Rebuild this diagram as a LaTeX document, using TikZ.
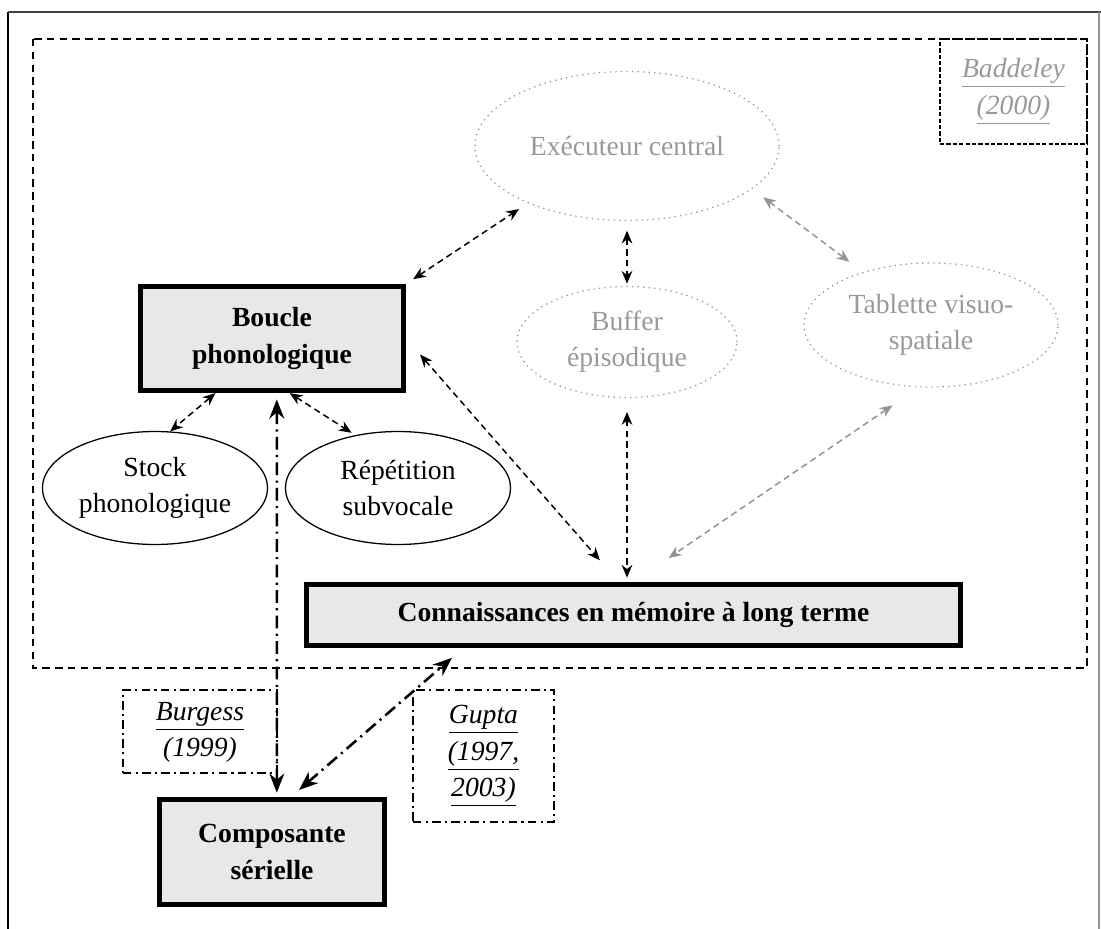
\documentclass[tikz,border=0pt]{standalone}
\usepackage{fontspec}
\setmainfont{Liberation Serif}
\usepackage{tikz}
\usetikzlibrary{shapes}
\usetikzlibrary{shapes.geometric}
\usetikzlibrary{arrows.meta}
\pgfdeclarelayer{edgelayer}
\pgfdeclarelayer{nodelayer}
\pgfsetlayers{edgelayer,nodelayer,main}
\tikzstyle{none}=[inner sep=0pt]
\definecolor{lightgrey}{rgb}{0.91,0.91,0.91}
\definecolor{textgrey}{rgb}{0.6,0.6,0.6}
\definecolor{linegrey}{rgb}{0.58,0.58,0.58}
\tikzstyle{bigbox}=[rectangle, draw=black, fill=lightgrey, line width=2.4pt, align=center, font=\bfseries\fontsize{13}{17}\selectfont]
\tikzstyle{oval}=[ellipse, draw=black, line width=0.6pt, align=center, font=\fontsize{13}{17}\selectfont]
\tikzstyle{greyoval}=[ellipse, draw=linegrey, dotted, line width=0.6pt, text=textgrey, align=center, font=\fontsize{13}{17}\selectfont]
\tikzstyle{refbox}=[rectangle, draw=black, line width=0.8pt, dash pattern=on 4pt off 2pt on 1pt off 2pt, align=center, font=\itshape\fontsize{13}{17}\selectfont]
\tikzstyle{dasharrow}=[color=black, dash pattern=on 3pt off 2pt, line width=0.7pt, {Stealth[length=6pt,width=5pt]}-{Stealth[length=6pt,width=5pt]}]
\tikzstyle{greyarrow}=[dasharrow, color=linegrey]
\tikzstyle{dotarrow}=[color=black, dash pattern=on 6pt off 2.5pt on 1pt off 2.5pt, line width=1.2pt, {Stealth[length=9pt,width=7pt]}-{Stealth[length=9pt,width=7pt]}]

\begin{document}
\begin{tikzpicture}[x=0.47pt, y=-0.47pt]
	\useasboundingbox (0,0) rectangle (1101,929);
	\begin{pgfonlayer}{nodelayer}
		\node [style=greyoval, inner sep=0pt, minimum width=143pt, minimum height=70pt] (0) at (627, 146) {Exécuteur central};
		\node [style=greyoval, inner sep=0pt, minimum width=103.4pt, minimum height=52.2pt] (1) at (627, 342) {Buffer\\épisodique};
		\node [style=greyoval, inner sep=0pt, minimum width=119.4pt, minimum height=58.3pt] (2) at (931, 325) {Tablette visuo-\\spatiale};
		\node [style=bigbox, inner sep=0pt, minimum width=123.6pt, minimum height=48.9pt] (3) at (272, 338.5) {Boucle\\phonologique};
		\node [style=oval, inner sep=0pt, minimum width=105.8pt, minimum height=53.1pt] (4) at (155, 488) {Stock\\phonologique};
		\node [style=oval, inner sep=0pt, minimum width=105.8pt, minimum height=53.1pt] (5) at (398, 488) {Répétition\\subvocale};
		\node [style=bigbox, inner sep=0pt, minimum width=307.4pt, minimum height=28.7pt] (6) at (633.5, 615) {Connaissances en mémoire à long terme};
		\node [style=bigbox, inner sep=0pt, minimum width=105.8pt, minimum height=49.4pt] (7) at (272, 852) {Composante\\sérielle};
		\node [style=refbox, dash pattern=on 2pt off 1pt, line width=1pt, text=textgrey, inner sep=0pt, minimum width=69.1pt, minimum height=49.4pt] (8) at (1013.5, 91.5) {\underline{Baddeley}\\\underline{(2000)}};
		\node [style=refbox, inner sep=0pt, minimum width=72.4pt, minimum height=39pt] (9) at (200, 731.5) {\raisebox{-4pt}{\begin{tabular}{@{}c@{}}\underline{Burgess}\\(1999)\end{tabular}}};
		\node [style=refbox, inner sep=0pt, minimum width=66.3pt, minimum height=62pt] (10) at (483.5, 756) {\underline{Gupta}\\\underline{(1997,}\\\underline{2003)}};
	\end{pgfonlayer}
	\begin{pgfonlayer}{edgelayer}
		\draw [line width=0.7pt, color=black] (8, 929) -- (8, 12);
		\draw [line width=1pt, color=black!75] (8, 12) -- (1101, 12);
		\draw [line width=0.5pt, color=linegrey] (1099, 12) -- (1099, 929);
		\draw [line width=0.9pt, dash pattern=on 3.5pt off 2.5pt] (33, 39) rectangle (1087, 668);
		\draw [style=dasharrow, shorten <=4pt, shorten >=5pt] (3.north east) to (0.210);
		\draw [style=dasharrow, shorten <=4.5pt, shorten >=1pt] (0.south) to (1.north);
		\draw [style=greyarrow, shorten <=6.5pt, shorten >=8pt] (0.341) to (2.142);
		\draw [style=dasharrow, shorten <=10pt, shorten >=13.5pt] (3.east) to (6.114);
		\draw [style=dasharrow, shorten <=6.5pt, shorten >=2pt] (1.south) to (1.south |- 6.north);
		\draw [style=greyarrow, shorten <=15pt, shorten >=20pt] (2.259) to (6.north);
		\draw [style=dasharrow] (3.224) to (4.75);
		\draw [style=dasharrow, shorten >=2pt] (3.288) to (5.129);
		\draw [style=dotarrow, shorten <=3pt, shorten >=2pt] (3.275) to (7.85);
		\draw [style=dotarrow, shorten <=5pt, shorten >=7pt] (7.71) to (6.191);
	\end{pgfonlayer}
\end{tikzpicture}
\end{document}
